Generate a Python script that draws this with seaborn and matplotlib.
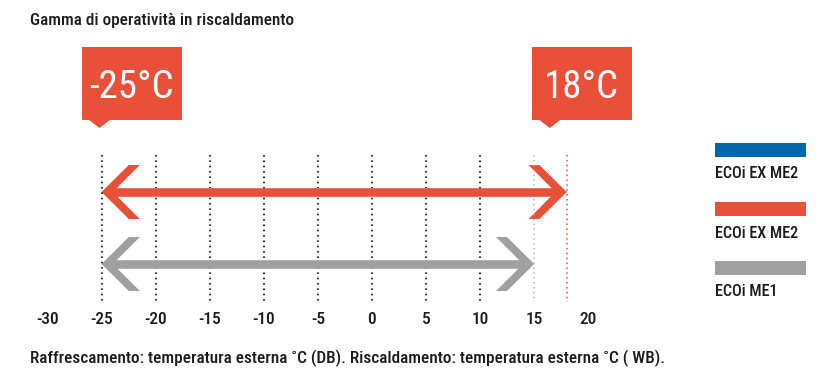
import matplotlib
matplotlib.use("Agg")
import numpy as np
import pandas as pd
import seaborn as sns
import matplotlib.pyplot as plt
import matplotlib.transforms as mtransforms
from matplotlib import font_manager
from matplotlib.patches import Rectangle, Polygon

# ---- chart content -------------------------------------------------------
title = "Gamma di operatività in riscaldamento"
footnote = "Raffrescamento: temperatura esterna ˚C (DB). Riscaldamento: temperatura esterna ˚C ( WB)."

tick_values = [-30, -25, -20, -15, -10, -5, 0, 5, 10, 15, 20]
tick_labels = ["-30", "-25", "-20", "-15", "-10", "-5", "0", "5", "10", "15", "20"]
grid_values = [-25, -20, -15, -10, -5, 0, 5, 10]

legend_names = ["ECOi EX ME2", "ECOi EX ME2", "ECOi ME1"]
legend_colors = ["#0068AA", "#E9503A", "#A0A0A0"]

# heating operating ranges (°C) drawn as double arrows
range_names = ["ECOi EX ME2", "ECOi ME1"]
range_min = [-25, -25]
range_max = [18, 15]
range_colors = ["#E9503A", "#A0A0A0"]
range_end_grid_colors = ["#E9503A", "#B4B4B4"]

callout_values = [-25, 18]
callout_labels = ["-25°C", "18°C"]
callout_color = "#E9503A"

# ---- fonts ---------------------------------------------------------------
sns.set_theme(style="white")
available = {f.name for f in font_manager.fontManager.ttflist}
font = "DejaVu Sans"
for cand in ["Roboto Condensed", "Liberation Sans Narrow", "Open Sans Condensed",
             "Noto Sans Condensed", "DejaVu Sans Condensed"]:
    if cand in available:
        font = cand
        break
plt.rcParams["font.family"] = [font, "DejaVu Sans"]
plt.rcParams["font.weight"] = "medium"
ink = "#1c1c1c"

W, H = 835, 372
fig = plt.figure(figsize=(W / 100, H / 100), dpi=100)
ax = fig.add_axes([0, 0, 1, 1])

# x in °C, y in pixel rows (top = 0)
x_zero, px_per_deg = 372.0, 10.82
ax.set_xlim(-x_zero / px_per_deg, (W - x_zero) / px_per_deg)
ax.set_ylim(H, 0)
px = mtransforms.Affine2D().scale(1 / W, -1 / H).translate(0, 1) + fig.transFigure

def dx(p):
    return p / px_per_deg

# dotted guide lines
grid_top, grid_bottom = 155, 302
dot = (0, (1.0, 2.2))
ax.vlines(grid_values, grid_top, grid_bottom, colors="#111111", linewidth=1.2, linestyles=[dot])
ax.vlines(range_max, grid_top, grid_bottom, colors=range_end_grid_colors,
          linewidth=1.1, linestyles=[dot])

# arrow shafts
rows = [192, 264]
df = pd.DataFrame({
    "temp": [v for lo, hi in zip(range_min, range_max) for v in (lo, hi)],
    "row": [r for r in rows for _ in range(2)],
    "series": [f"{i}" for i in range(len(rows)) for _ in range(2)],
})
shrink = dx(6)
df.loc[0::2, "temp"] += shrink
df.loc[1::2, "temp"] -= shrink
sns.lineplot(data=df, x="temp", y="row", hue="series", palette=range_colors,
             linewidth=6.2, solid_capstyle="butt", estimator=None, sort=False,
             legend=False, ax=ax)

# chevron heads
def chevron(tip, row, direction, color):
    pts = np.array([(0, 0), (27.3, -27), (38.3, -27), (11.3, 0), (38.3, 27), (27.3, 27)])
    xs = tip + direction * dx(pts[:, 0])
    ys = row + pts[:, 1]
    ax.add_patch(Polygon(np.column_stack([xs, ys]), closed=True, color=color, lw=0))

for lo, hi, r, c in zip(range_min, range_max, rows, range_colors):
    chevron(lo, r, 1, c)
    chevron(hi, r, -1, c)

# axis labels
ax.set_xticks(tick_values)
ax.set_xticklabels(tick_labels)
ax.set_yticks([])
ax.spines["bottom"].set_position(("data", grid_bottom))
for s in ax.spines.values():
    s.set_visible(False)
ax.tick_params(axis="x", length=0, pad=7.5, labelsize=12.5, labelcolor=ink)
ax.set_xlabel("")
ax.set_ylabel("")

# value callouts
box_offsets = [-20, -35]
for v, lab, off in zip(callout_values, callout_labels, box_offsets):
    vx = x_zero + v * px_per_deg
    left = vx + off
    fig.patches.append(Rectangle((left, 47), 100, 73, transform=px,
                                 facecolor=callout_color, edgecolor="none"))
    fig.patches.append(Polygon([(left + 7, 119.5), (left + 29, 119.5), (left + 18, 128)],
                               closed=True, transform=px,
                               facecolor=callout_color, edgecolor="none"))
    fig.text(left + 50, 87, lab, transform=px, ha="center", va="center",
             color="white", fontsize=28, fontweight="normal")

# legend
bar_tops = [143, 202, 261]
for name, col, top in zip(legend_names, legend_colors, bar_tops):
    fig.patches.append(Rectangle((715, top), 91, 14, transform=px,
                                 facecolor=col, edgecolor="none"))
    fig.text(715, top + 31, name, transform=px, ha="left", va="center",
             color=ink, fontsize=11.6)

fig.text(30, 21, title, transform=px, ha="left", va="center", color=ink, fontsize=12.3)
fig.text(30, 358, footnote, transform=px, ha="left", va="center", color=ink, fontsize=12.4)

fig.savefig("out.png", dpi=100)
